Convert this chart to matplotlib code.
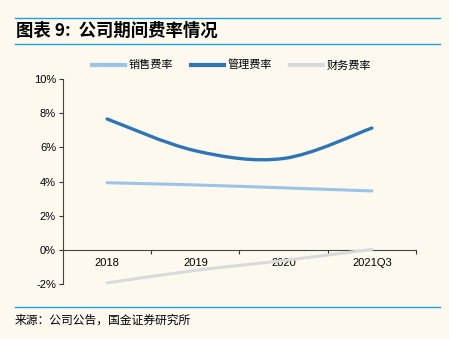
import numpy as np
import matplotlib
matplotlib.use('Agg')
import matplotlib.pyplot as plt
from matplotlib.path import Path
from matplotlib.patches import PathPatch
from matplotlib.lines import Line2D

plt.rcParams['font.family'] = ['Liberation Sans', 'Noto Sans CJK SC', 'DejaVu Sans']

categories = ['2018', '2019', '2020', '2021Q3']
sales_rate = [3.93, 3.80, 3.63, 3.45]
admin_rate = [7.66, 5.80, 5.35, 7.13]
fin_rate = [-1.93, -1.20, -0.62, 0.03]

names = ['销售费率', '管理费率', '财务费率']
colors = ['#9DC3E6', '#2E75B6', '#DADADA']

bg = '#FDF9EF'
rule = '#1BA1E2'
cjk = ['Noto Sans CJK SC', 'DejaVu Sans']


def smooth_path(xs, ys, t=1/6):
    # Catmull-Rom as cubic bezier, like a smoothed Excel line
    pts = list(zip(xs, ys))
    verts = [pts[0]]
    codes = [Path.MOVETO]
    n = len(pts)
    for i in range(n - 1):
        p0 = pts[i - 1] if i > 0 else pts[i]
        p1 = pts[i]
        p2 = pts[i + 1]
        p3 = pts[i + 2] if i + 2 < n else pts[i + 1]
        c1 = (p1[0] + (p2[0] - p0[0]) * t, p1[1] + (p2[1] - p0[1]) * t)
        c2 = (p2[0] - (p3[0] - p1[0]) * t, p2[1] - (p3[1] - p1[1]) * t)
        verts += [c1, c2, p2]
        codes += [Path.CURVE4] * 3
    return Path(verts, codes)


fig = plt.figure(figsize=(4.49, 3.39), dpi=100, facecolor=bg)
ax = fig.add_axes([0.1403, 0.162, 0.7862, 0.605], facecolor=bg)

x = np.arange(len(categories))
series = [sales_rate, admin_rate, fin_rate]
widths = [2.2, 2.4, 2.2]
for vals, c, lw in zip(series, colors, widths):
    p = smooth_path(x, vals)
    ax.add_patch(PathPatch(p, facecolor='none', edgecolor=c, lw=lw,
                           capstyle='round', zorder=3))

ax.set_xlim(-0.5, 3.5)
ax.set_ylim(-2, 10)
ax.set_yticks(range(-2, 11, 2))
ax.set_yticklabels(['%d%%' % v for v in range(-2, 11, 2)])

ax.set_xticks([0.5, 1.5, 2.5, 3.5])
ax.set_xticklabels([])
ax.set_xticks(x, minor=True)
ax.set_xticklabels(categories, minor=True)
ax.tick_params(axis='x', which='minor', length=0, pad=6, labelsize=8)
ax.tick_params(axis='x', which='major', length=3, direction='out', color='#333333')
ax.tick_params(axis='y', length=3, direction='out', color='#333333', pad=2, labelsize=8)

for s in ['top', 'right']:
    ax.spines[s].set_visible(False)
ax.spines['bottom'].set_position(('data', 0))
ax.spines['bottom'].set_color('#444444')
ax.spines['left'].set_color('#444444')

handles = [Line2D([0], [0], color=c, lw=3) for c in colors]
leg = fig.legend(handles, names, loc='center', bbox_to_anchor=(0.515, 0.808),
                 ncol=3, frameon=False, handlelength=3.0, columnspacing=1.6,
                 handletextpad=0.3, prop={'family': cjk, 'size': 8})

# title and rules
fig.add_artist(Line2D([15/449, 440/449], [1-18/339, 1-18/339], color=rule, lw=1.0))
fig.add_artist(Line2D([15/449, 440/449], [1-44/339, 1-44/339], color=rule, lw=1.0))
fig.add_artist(Line2D([15/449, 440/449], [1-307/339, 1-307/339], color=rule, lw=1.0))
fig.text(16/449, 1-31/339, '图表 9:  公司期间费率情况', fontsize=12.5, fontweight='bold',
         fontstyle='italic', family=cjk, va='center', ha='left')
fig.text(15/449, 1-320/339, '来源：公司公告，国金证券研究所', fontsize=8.5,
         family=cjk, va='center', ha='left')

fig.savefig('out.png', dpi=100, facecolor=bg)
